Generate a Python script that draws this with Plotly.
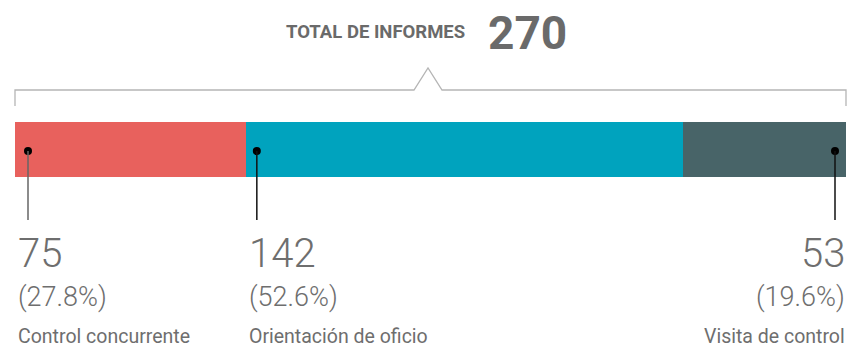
import plotly.graph_objects as go

# Report counts by type
categories = ["Control concurrente", "Orientación de oficio", "Visita de control"]
values = [75, 142, 53]
colors = ["#E8615D", "#00A3BE", "#486468"]
title_text = "TOTAL DE INFORMES"

total = sum(values)
W, H = 847, 349
x0_px, x1_px = 15, 846
ppu = (x1_px - x0_px) / total          # pixels per report
xr = [-x0_px / ppu, (W - x0_px) / ppu]  # x range in data units
px = 1 / ppu                            # one pixel in data units

bar_y, bar_h = 149.5, 55

fig = go.Figure()

# stacked horizontal bar
for cat, v, c in zip(categories, values, colors):
    fig.add_trace(go.Bar(
        x=[v], y=[bar_y], orientation="h", width=bar_h,
        marker=dict(color=c, line=dict(width=0)),
        name=cat, hoverinfo="x+name", showlegend=False,
    ))

starts = [sum(values[:i]) for i in range(len(values))]
# leader-dot positions: inside the left edge of the first two segments, right edge of the last
dot_x = [starts[0] + 13 * px, starts[1] + 11 * px, total - 11 * px]
line_cols = ["#666666", "#111111", "#111111"]

shapes = []
for dx, lc in zip(dot_x, line_cols):
    shapes.append(dict(type="line", x0=dx, x1=dx, y0=151, y1=220,
                       line=dict(color=lc, width=1.5), layer="above"))
fig.add_trace(go.Scatter(
    x=dot_x, y=[151] * 3, mode="markers",
    marker=dict(color="#000000", size=8), hoverinfo="skip", showlegend=False,
))

# bracket over the whole bar with a peak pointing to the title
peak_x = (428 - x0_px) * px
half = 14 * px
bracket = (f"M {0} 106 L {0} 90 L {peak_x - half} 90 L {peak_x} 68 "
           f"L {peak_x + half} 90 L {total} 90 L {total} 106")
shapes.append(dict(type="path", path=bracket, line=dict(color="#B5B5B5", width=1.3)))

annotations = [
    dict(x=(467 - x0_px) * px, y=32, text=f"<b>{title_text}</b>", xanchor="right", yanchor="middle",
         showarrow=False, font=dict(family="Roboto", size=18.5, color="#6A6A6A")),
    dict(x=(486 - x0_px) * px, y=33, text=f"<b>{total}</b>", xanchor="left", yanchor="middle",
         showarrow=False, font=dict(family="Roboto", size=46, color="#6A6A6A", weight=900)),
]

anchors = ["left", "left", "right"]
text_x = [starts[0] + 1 * px, starts[1] + 1 * px, total + 1 * px]
for cat, v, ax, tx in zip(categories, values, anchors, text_x):
    pct = 100 * v / total
    annotations += [
        dict(x=tx, y=253, text=str(v), xanchor=ax, yanchor="middle", showarrow=False,
             font=dict(family="Roboto", size=40, color="#6E6E6E", weight=300)),
        dict(x=tx, y=297, text=f"({pct:.1f}%)", xanchor=ax, yanchor="middle", showarrow=False,
             font=dict(family="Roboto", size=27, color="#6E6E6E", weight=300)),
        dict(x=tx, y=336, text=cat, xanchor=ax, yanchor="middle", showarrow=False,
             font=dict(family="Roboto", size=19.5, color="#6E6E6E")),
    ]

fig.update_layout(
    width=W, height=H, margin=dict(l=0, r=0, t=0, b=0),
    paper_bgcolor="white", plot_bgcolor="white",
    barmode="stack", bargap=0,
    xaxis=dict(range=xr, visible=False, fixedrange=True),
    yaxis=dict(range=[H, 0], visible=False, fixedrange=True),
    shapes=shapes, annotations=annotations,
)

fig.write_html("out.html")
